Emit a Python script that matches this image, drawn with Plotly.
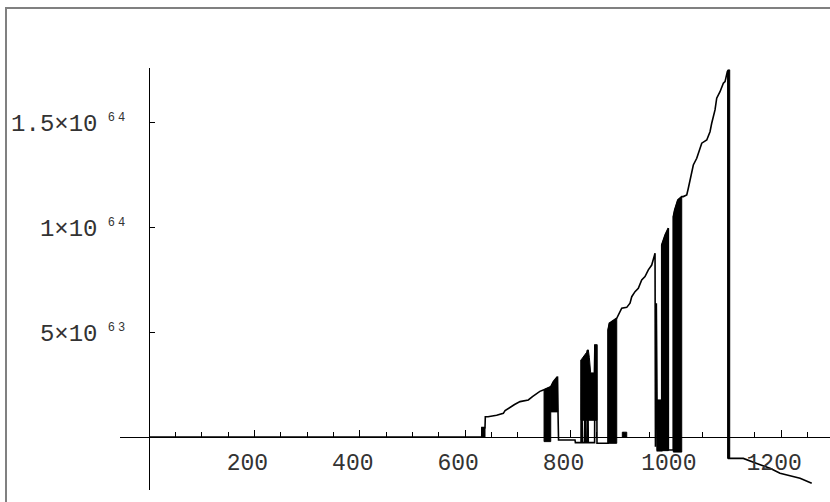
import plotly.graph_objects as go

Y_UNIT = 1e62  # values below are in units of 10^62

# main polyline (x, y in 1e62)
line_x = [0, 631.7, 632, 637.9, 638.5, 643.6, 660, 672.7, 676, 682.2, 694, 704.4, 712, 720.1,
          728, 736.1, 742, 748.6, 750, 762.7, 767.6, 775.2, 776.5, 777.5, 808.8, 809.5, 820.2,
          820.5, 823, 827, 827.5, 829, 832, 832.5, 834, 846, 846.5, 850, 850.5, 871.5, 871.5,
          874, 888, 897.5, 907, 913.2, 916.5, 922.7, 929, 935.4, 941.7, 948, 954.4, 958.8,
          960.7, 961.5, 963.2, 964.5, 965, 973.4, 973.4, 980, 986, 986, 995.4, 995.4, 998,
          1004, 1011.4, 1014.4, 1020.9, 1023.9, 1027.1, 1033.4, 1039.9, 1049.4, 1058.9,
          1065.1, 1068.3, 1074.6, 1077.8, 1084.1, 1090.4, 1093.6, 1098, 1100, 1100.5,
          1128.3, 1153.8, 1179, 1198, 1223.3, 1236, 1258.2]
line_y = [0, 0, 4.5, 4.5, 9.7, 9.7, 10.4, 11.3, 12.6, 13.7, 15.5, 16.9, 17.4, 17.7,
          19.3, 20.9, 21.8, 22.4, 22.6, 24.0, 26.4, 28.8, 12.0, -1.4, -1.4, -2.7, -2.7,
          36.8, -2.7, -2.7, 39.0, -2.7, -2.7, 41.6, -2.7, -2.7, 43.9, 43.9, -3.0, -3.0, 51.1,
          54.3, 56.7, 61.5, 61.9, 63.9, 67.0, 69.4, 71.0, 75.0, 76.6, 79.8, 82.1, 85.3,
          87.7, -4.6, 63.9, 17.7, -6.5, -6.5, 91.7, 96.5, 99.7, -6.2, -6.2, 105.2, 108.4,
          113.2, 114.8, 114.8, 115.6, 118.8, 122.7, 129.9, 133.1, 140.3, 141.8,
          145.8, 149.8, 156.2, 161.8, 164.9, 168.9, 169.7, 174.5, 175.3, -10.2,
          -10.2, -12.6, -14.9, -17.3, -19.0, -19.7, -22.1]

# densely oscillating (solid black) stretches: top outline and bottom level
block_top_x = [
    [631.7, 637.9],
    [750, 762.7],
    [762.7, 767.6, 776],
    [820.2, 826, 831, 832.5, 834, 836, 838.5, 845, 846, 850.5],
    [871.5, 874, 888],
    [898.6, 907],
    [964.5, 973.4],
    [973.4, 980, 986],
    [995.4, 998, 1004, 1011.4],
    [1098.5, 1100, 1102.5],
]
block_top_y = [
    [4.5, 4.5],
    [22.6, 24.0],
    [24.0, 26.4, 28.8],
    [36.8, 38.5, 40.5, 41.6, 41.6, 38.0, 30.6, 30.6, 43.9, 43.9],
    [51.1, 54.3, 56.7],
    [2.3, 2.3],
    [17.7, 17.7],
    [91.7, 96.5, 99.7],
    [105.2, 108.4, 113.2, 114.8],
    [174.5, 175.3, 175.3],
]
block_bottom = [0, -2.2, 12.0, 8.0, -3.0, 0, -6.5, -6.5, -7.2, -10.2]

x_tick_vals = [200, 400, 600, 800, 1000, 1200]
x_tick_text = ["200", "400", "600", "800", "1000", "1200"]
x_minor_vals = [50, 100, 150, 250, 300, 350, 450, 500, 550, 650, 700, 750, 850, 900, 950,
                1050, 1100, 1150, 1250]
y_tick_vals = [5e63, 1e64, 1.5e64]
sup = '<sup><span style="font-size:12px;letter-spacing:3px">&nbsp;{}</span></sup>'
y_tick_text = ["5×10" + sup.format("63"), "1×10" + sup.format("64"), "1.5×10" + sup.format("64")]

W, H = 830, 502
x_range = [-55.1, 1292.9]
y_range = [-25.3 * Y_UNIT, 176.2 * Y_UNIT]
x_dom = [120 / W, 1.0]
y_dom = [12 / H, 434 / H]

fig = go.Figure()
fig.add_trace(go.Scatter(x=line_x, y=[v * Y_UNIT for v in line_y], mode="lines",
                         line=dict(color="black", width=1.6), showlegend=False,
                         hoverinfo="skip"))
for tx, ty, b in zip(block_top_x, block_top_y, block_bottom):
    px = tx + [tx[-1], tx[0], tx[0]]
    py = ty + [b, b, ty[0]]
    fig.add_trace(go.Scatter(x=px, y=[v * Y_UNIT for v in py], mode="lines", fill="toself",
                             fillcolor="black", line=dict(color="black", width=1),
                             showlegend=False, hoverinfo="skip"))

x_pos = x_dom[0] + (0 - x_range[0]) / (x_range[1] - x_range[0]) * (x_dom[1] - x_dom[0])
y_pos = y_dom[0] + (0 - y_range[0]) / (y_range[1] - y_range[0]) * (y_dom[1] - y_dom[0])

xfont = dict(family="Liberation Mono", size=23, color="#333")
yfont = dict(family="Liberation Mono", size=24, color="#333")
fig.update_layout(
    width=W, height=H,
    margin=dict(l=0, r=0, t=0, b=0),
    paper_bgcolor="white", plot_bgcolor="white",
    xaxis=dict(domain=x_dom, range=x_range, anchor="free", position=y_pos,
               showline=True, linecolor="black", linewidth=1.2, showgrid=False, zeroline=False,
               ticks="inside", ticklen=7, tickwidth=1, tickcolor="black",
               tickmode="array", tickvals=x_tick_vals,
               ticktext=[t + "&nbsp;" for t in x_tick_text],
               tickfont=xfont, ticklabelstandoff=4,
               minor=dict(tickmode="array", tickvals=x_minor_vals, ticks="inside",
                          ticklen=5, tickwidth=1, tickcolor="black", showgrid=False)),
    yaxis=dict(domain=y_dom, range=y_range, anchor="free", position=x_pos,
               showline=True, linecolor="black", linewidth=1.2, showgrid=False, zeroline=False,
               ticks="inside", ticklen=5, tickwidth=1, tickcolor="black",
               tickmode="array", tickvals=y_tick_vals, ticktext=y_tick_text,
               tickfont=yfont, ticklabelstandoff=16),
    shapes=[dict(type="rect", xref="paper", yref="paper", x0=6 / W, x1=1.5,
                 y0=-0.5, y1=(H - 8) / H, line=dict(color="#808080", width=2),
                 fillcolor="rgba(0,0,0,0)", layer="below")],
)

fig.write_html("out.html", config={"displayModeBar": False},
               post_script="document.body.style.margin='0';")
